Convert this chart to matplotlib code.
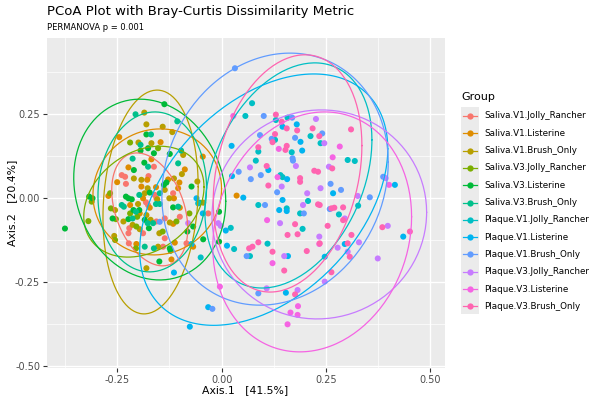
import numpy as np
import matplotlib
matplotlib.use("Agg")
import matplotlib.pyplot as plt
from matplotlib.lines import Line2D
from matplotlib.patches import Rectangle

# group names and ggplot hue colours
groups = ['Saliva.V1.Jolly_Rancher', 'Saliva.V1.Listerine', 'Saliva.V1.Brush_Only',
          'Saliva.V3.Jolly_Rancher', 'Saliva.V3.Listerine', 'Saliva.V3.Brush_Only',
          'Plaque.V1.Jolly_Rancher', 'Plaque.V1.Listerine', 'Plaque.V1.Brush_Only',
          'Plaque.V3.Jolly_Rancher', 'Plaque.V3.Listerine', 'Plaque.V3.Brush_Only']
colors = ['#F8766D', '#DE8C00', '#B79F00', '#7CAE00', '#00BA38', '#00C08B',
          '#00BFC4', '#00B4F0', '#619CFF', '#C77CFF', '#F564E3', '#FF64B0']

# PCoA coordinates (Axis.1, Axis.2)
saliva_v1_jolly = [(-0.162, 0.094), (-0.239, 0.069), (-0.231, 0.064), (-0.229, 0.043), (-0.175, 0.066),
                   (-0.116, 0.015), (-0.160, 0.010), (-0.156, 0.000), (-0.181, -0.012), (-0.176, -0.020),
                   (-0.156, -0.069), (-0.136, -0.060), (-0.100, -0.055), (-0.221, -0.089), (-0.223, -0.104),
                   (-0.188, -0.104), (-0.136, -0.119), (-0.084, -0.134), (-0.032, -0.045), (-0.222, -0.134),
                   (-0.140, -0.144)]
saliva_v1_listerine = [(-0.245, 0.182), (-0.146, 0.167), (-0.045, 0.124), (-0.168, 0.116), (-0.223, 0.092),
                       (-0.088, 0.086), (-0.250, 0.048), (-0.178, 0.055), (-0.192, 0.035), (-0.128, 0.056),
                       (-0.104, 0.030), (-0.101, 0.047), (-0.157, 0.033), (-0.271, 0.007), (-0.114, 0.000),
                       (-0.100, -0.028), (-0.219, -0.020), (-0.188, 0.000), (-0.172, -0.028), (-0.196, -0.045),
                       (-0.116, -0.076), (-0.112, -0.132), (-0.204, -0.136), (-0.120, -0.182), (-0.068, -0.144),
                       (0.036, 0.008)]
saliva_v1_brush = [(-0.185, 0.255), (-0.180, 0.220), (-0.141, 0.213), (-0.118, 0.197), (-0.199, 0.166),
                   (-0.168, 0.164), (-0.092, 0.129), (-0.095, 0.072), (-0.210, 0.059), (-0.192, 0.055),
                   (-0.177, 0.030), (-0.114, 0.059), (-0.136, 0.025), (-0.058, 0.050), (-0.184, 0.015),
                   (-0.125, 0.000), (-0.044, -0.013), (-0.200, -0.017), (-0.154, -0.003), (-0.255, -0.035),
                   (-0.180, -0.050), (-0.170, -0.064), (-0.124, -0.072), (-0.235, -0.069), (-0.213, -0.079),
                   (-0.196, -0.092), (-0.149, -0.104), (-0.257, -0.112), (-0.152, -0.144), (-0.180, -0.208)]
saliva_v3_jolly = [(-0.219, 0.166), (-0.152, 0.149), (-0.267, 0.015), (-0.311, -0.010), (-0.265, -0.030),
                   (-0.219, -0.045), (-0.202, -0.055), (-0.108, -0.069), (-0.253, -0.062), (-0.204, -0.084),
                   (-0.141, -0.099), (-0.077, -0.045), (-0.255, -0.124), (-0.205, -0.149), (-0.319, -0.068)]
saliva_v3_listerine = [(-0.137, 0.280), (-0.180, 0.190), (-0.176, 0.149), (-0.194, 0.142), (-0.162, 0.134),
                       (-0.124, 0.132), (-0.185, 0.106), (-0.210, 0.084), (-0.132, 0.047), (-0.138, 0.040),
                       (-0.072, 0.035), (-0.317, 0.005), (-0.309, 0.000), (-0.229, 0.005), (-0.223, 0.000),
                       (-0.215, -0.003), (-0.172, 0.017), (-0.116, -0.027), (-0.211, -0.035), (-0.197, -0.035),
                       (-0.184, -0.064), (-0.261, -0.060), (-0.223, -0.062), (-0.174, -0.089), (-0.082, -0.099),
                       (-0.068, -0.084), (-0.006, -0.040), (-0.124, -0.149), (-0.122, -0.156), (-0.149, -0.188),
                       (-0.044, -0.122), (-0.006, -0.129), (-0.375, -0.090)]
saliva_v3_brush = [(-0.206, 0.250), (-0.106, 0.229), (-0.169, 0.190), (-0.194, 0.159), (-0.097, 0.142),
                   (-0.213, 0.118), (-0.176, 0.094), (-0.104, 0.104), (-0.197, 0.010), (-0.148, 0.015),
                   (-0.104, -0.025), (-0.053, -0.013), (-0.239, -0.020), (-0.234, -0.025), (-0.157, -0.017),
                   (-0.148, -0.017), (-0.205, -0.040), (-0.213, -0.060), (-0.164, -0.074), (-0.177, -0.074),
                   (-0.184, -0.144), (-0.162, -0.149)]
plaque_v1_jolly = [(0.073, 0.283), (0.057, 0.245), (0.130, 0.233), (0.158, 0.240), (0.213, 0.185),
                   (0.128, 0.174), (0.168, 0.137), (0.088, 0.139), (0.082, 0.112), (0.141, 0.069),
                   (0.146, 0.063), (0.237, 0.164), (0.302, 0.114), (0.319, 0.111), (0.207, -0.008),
                   (0.156, -0.030), (0.188, -0.045), (0.088, -0.020), (0.022, -0.088), (0.030, -0.151),
                   (0.194, -0.091), (0.110, -0.135), (0.068, -0.172), (0.327, -0.022), (0.281, -0.048),
                   (-0.050, -0.176), (-0.056, -0.015)]
plaque_v1_listerine = [(0.180, 0.220), (0.146, 0.213), (0.189, 0.168), (0.024, 0.156), (0.193, 0.142),
                       (0.112, 0.084), (0.025, 0.066), (0.157, 0.057), (0.415, 0.040), (0.146, -0.005),
                       (0.138, -0.035), (0.156, -0.038), (0.052, 0.002), (0.013, -0.141), (0.159, -0.172),
                       (0.154, -0.281), (-0.032, -0.324), (-0.076, -0.382), (0.267, 0.015), (0.435, -0.114),
                       (0.295, -0.136), (0.247, -0.174), (-0.060, 0.000), (-0.045, -0.045), (-0.072, -0.136),
                       (0.010, -0.096), (-0.114, -0.221)]
plaque_v1_brush = [(0.032, 0.387), (0.101, 0.245), (0.169, 0.240), (0.176, 0.180), (0.092, 0.188),
                   (0.120, 0.177), (0.094, 0.069), (0.041, 0.079), (0.070, 0.057), (0.170, 0.119),
                   (0.171, 0.112), (0.241, 0.193), (0.261, 0.043), (0.286, 0.025), (0.387, 0.064),
                   (0.133, 0.018), (0.197, -0.045), (0.104, -0.020), (0.060, -0.172), (0.088, -0.283),
                   (-0.022, -0.329), (0.355, 0.003), (0.259, -0.032), (-0.148, -0.070)]
plaque_v3_jolly = [(0.226, 0.236), (0.068, 0.092), (0.178, 0.096), (0.144, 0.035), (0.246, 0.164),
                   (0.257, 0.094), (0.237, 0.030), (0.393, 0.060), (0.205, 0.015), (0.195, -0.020),
                   (0.140, -0.074), (0.150, -0.172), (0.108, -0.268), (0.182, -0.273), (0.234, -0.114),
                   (0.326, 0.007), (0.295, -0.060), (0.398, -0.082), (0.278, -0.147), (0.329, -0.131),
                   (0.302, -0.159), (0.374, -0.179), (0.247, -0.248), (-0.080, -0.074), (-0.008, -0.074),
                   (-0.002, -0.082)]
plaque_v3_listerine = [(0.028, 0.245), (0.137, 0.147), (0.134, 0.063), (0.283, 0.154), (0.266, 0.122),
                       (0.401, 0.040), (0.109, -0.065), (0.122, -0.193), (-0.004, -0.263), (0.183, -0.321),
                       (0.165, -0.340), (0.182, -0.347), (0.158, -0.375), (0.234, -0.136)]
plaque_v3_brush = [(0.130, 0.249), (0.144, 0.228), (0.156, 0.208), (0.218, 0.208), (0.234, 0.185),
                   (0.181, 0.202), (0.122, 0.167), (0.128, 0.191), (0.088, 0.152), (0.156, 0.156),
                   (0.153, 0.144), (0.108, 0.096), (0.188, 0.060), (0.188, 0.049), (0.112, 0.038),
                   (0.222, 0.082), (0.231, 0.079), (0.310, 0.205), (0.265, 0.089), (0.231, -0.018),
                   (0.176, -0.077), (0.158, -0.109), (0.182, -0.107), (0.066, -0.149), (0.074, -0.144),
                   (0.088, -0.131), (0.122, -0.159), (0.204, -0.157), (0.150, -0.215), (0.176, -0.286),
                   (0.235, -0.020), (0.263, -0.030), (0.270, -0.028), (0.291, -0.027), (0.291, -0.065),
                   (0.254, -0.082), (0.385, -0.086), (0.451, -0.099), (0.311, -0.109), (0.235, -0.134),
                   (0.302, -0.134), (0.307, -0.174), (0.263, -0.220)]

# 95% ellipses: centre, half x-extent, half y-extent, correlation
ell_cx = [-0.172, -0.154, -0.170, -0.186, -0.172, -0.166, 0.160, 0.101, 0.128, 0.234, 0.217, 0.158]
ell_cy = [-0.033, 0.019, -0.011, -0.010, 0.026, 0.019, 0.068, -0.004, 0.057, -0.048, -0.100, 0.074]
ell_sx = [0.091, 0.154, 0.114, 0.144, 0.182, 0.130, 0.200, 0.297, 0.271, 0.257, 0.238, 0.178]
ell_sy = [0.168, 0.1875, 0.333, 0.165, 0.269, 0.238, 0.335, 0.374, 0.375, 0.311, 0.357, 0.353]
ell_r = [-0.34, 0.05, 0.137, 0.265, -0.13, 0.05, 0.316, 0.404, 0.133, 0.02, 0.126, 0.235]

all_points = [saliva_v1_jolly, saliva_v1_listerine, saliva_v1_brush, saliva_v3_jolly,
              saliva_v3_listerine, saliva_v3_brush, plaque_v1_jolly, plaque_v1_listerine,
              plaque_v1_brush, plaque_v3_jolly, plaque_v3_listerine, plaque_v3_brush]

fig = plt.figure(figsize=(6, 4), dpi=100)
ax = fig.add_axes([47/600, 1-368/400, 398/600, 330/400])
ax.set_facecolor('#EBEBEB')

for pts, col in zip(all_points, colors):
    arr = np.array(pts)
    ax.scatter(arr[:, 0], arr[:, 1], s=19, color=col, edgecolors='none', zorder=3)

t = np.linspace(0, 2*np.pi, 200)
for i, col in enumerate(colors):
    sx, sy, r = ell_sx[i], ell_sy[i], ell_r[i]
    ex = ell_cx[i] + sx*np.cos(t)
    ey = ell_cy[i] + sy*(r*np.cos(t) + np.sqrt(1-r*r)*np.sin(t))
    ax.plot(ex, ey, color=col, lw=0.9, zorder=4)

ax.set_xlim(-0.418, 0.535)
ax.set_ylim(-0.505, 0.477)
ax.set_xticks([-0.25, 0.0, 0.25, 0.5])
ax.set_xticklabels(['-0.25', '0.00', '0.25', '0.50'])
ax.set_yticks([-0.5, -0.25, 0.0, 0.25])
ax.set_yticklabels(['-0.50', '-0.25', '0.00', '0.25'])
ax.set_xticks([-0.375, -0.125, 0.125, 0.375], minor=True)
ax.set_yticks([-0.375, -0.125, 0.125, 0.375], minor=True)
ax.grid(which='major', color='white', lw=1.0, zorder=0)
ax.grid(which='minor', color='white', lw=0.5, zorder=0)
ax.set_axisbelow(True)
ax.tick_params(which='major', length=3, width=0.8, color='#333333', labelsize=7, labelcolor='#4D4D4D', pad=2)
ax.tick_params(which='minor', length=0)
for s in ax.spines.values():
    s.set_visible(False)

ax.set_xlabel('Axis.1   [41.5%]', fontsize=7.8)
ax.xaxis.set_label_coords((245 - 47)/398, -(390 - 368)/330)
ax.set_ylabel('Axis.2   [20.4%]', fontsize=7.8)
ax.yaxis.set_label_coords(-(47 - 12)/398, 0.5)
ax.xaxis.label.set_va('center')
ax.yaxis.label.set_va('center')

fig.text(47/600, 1-12/400, 'PCoA Plot with Bray-Curtis Dissimilarity Metric', fontsize=9.5, va='center', ha='left')
fig.text(47/600, 1-28/400, 'PERMANOVA p = 0.001', fontsize=6, va='center', ha='left')

# legend drawn by hand, ggplot style
fig.text(461/600, 1-97/400, 'Group', fontsize=8, va='center', ha='left')
fig.add_artist(Rectangle((461/600, 1-314/400), 18/600, 207/400, transform=fig.transFigure,
                         facecolor='#EBEBEB', edgecolor='none'))
for i, (name, col) in enumerate(zip(groups, colors)):
    yy = 1 - (116 + i*17.3)/400
    fig.add_artist(Line2D([463/600, 477/600], [yy, yy], transform=fig.transFigure, color=col, lw=0.9))
    fig.add_artist(Line2D([470/600], [yy], transform=fig.transFigure, marker='o', markersize=4.5,
                          color=col, markeredgewidth=0, lw=0))
    fig.text(484/600, yy, name, fontsize=6.3, va='center', ha='left')

fig.savefig('out.png', dpi=100)
